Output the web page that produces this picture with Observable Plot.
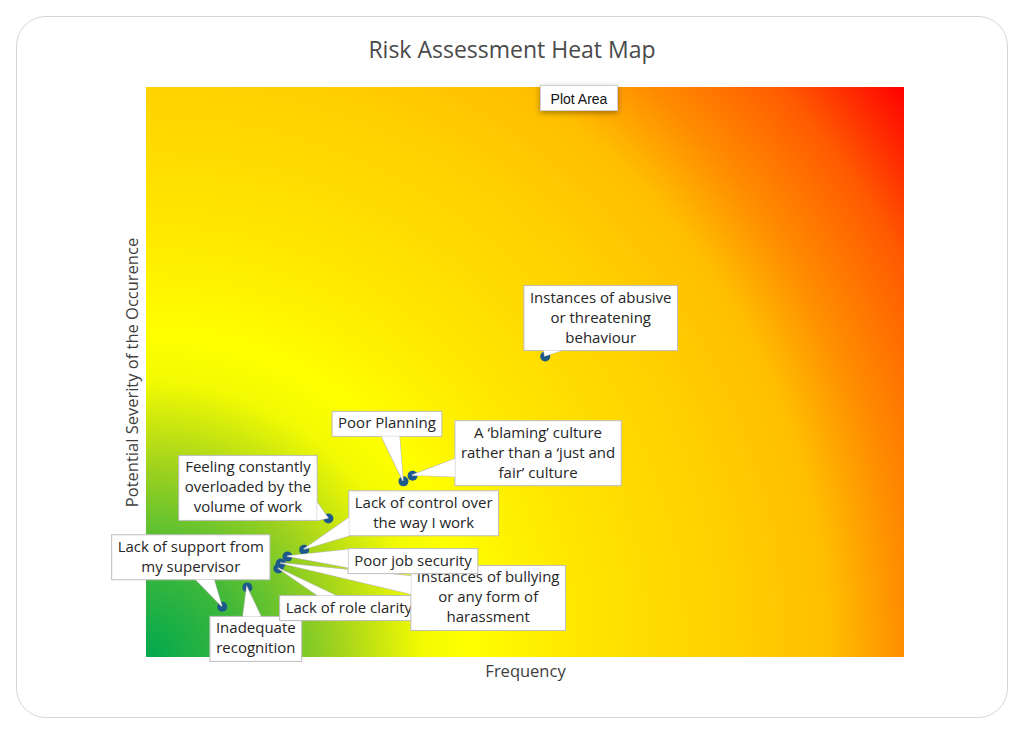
<!DOCTYPE html>
<html>
<head>
<meta charset="utf-8">
<script src="https://cdn.jsdelivr.net/npm/d3@7"></script>
<script src="https://cdn.jsdelivr.net/npm/@observablehq/plot@0.6"></script>
<style>
  html, body { margin: 0; padding: 0; background: #fff; }
  body { width: 1024px; height: 740px; position: relative; overflow: hidden; font-family: "Open Sans", "Noto Sans", sans-serif; }
  #card { position: absolute; left: 16px; top: 16px; width: 992px; height: 702px; border: 1px solid #d6d6d6; border-radius: 30px; box-sizing: border-box; }
  #title { position: absolute; left: 0; width: 1024px; top: 33px; text-align: center; font-size: 23px; color: #4a4a4a; }
  #chart { position: absolute; left: 0; top: 0; }
  #tip { position: absolute; left: 540px; top: 85px; width: 78px; height: 26px; background: #fff; border: 1px solid #cfcfcf; box-shadow: 0 2px 6px rgba(0,0,0,0.35); font-size: 14px; color: #111; text-align: center; line-height: 26px; box-sizing: border-box; font-family: "Liberation Sans", Arial, sans-serif; }
</style>
</head>
<body>
<div id="card"></div>
<div id="chart"></div>
<div id="title">Risk Assessment Heat Map</div>
<div id="tip">Plot Area</div>
<script>
// ---- data ----
const risks = [
  "Lack of support from my supervisor",
  "Inadequate recognition",
  "Lack of role clarity",
  "Instances of bullying or any form of harassment",
  "Poor job security",
  "Lack of control over the way I work",
  "Feeling constantly overloaded by the volume of work",
  "Poor Planning",
  "A ‘blaming’ culture rather than a ‘just and fair’ culture",
  "Instances of abusive or threatening behaviour"
];
const frequency = [1.0, 1.33, 1.74, 1.77, 1.86, 2.08, 2.40, 3.39, 3.51, 5.26];
const severity  = [0.89, 1.23, 1.56, 1.65, 1.77, 1.89, 2.44, 3.09, 3.19, 5.28];
const labelLines = [
  ["Lack of support from", "my supervisor"],
  ["Inadequate", "recognition"],
  ["Lack of role clarity"],
  ["Instances of bullying", "or any form of", "harassment"],
  ["Poor job security"],
  ["Lack of control over", "the way I work"],
  ["Feeling constantly", "overloaded by the", "volume of work"],
  ["Poor Planning"],
  ["A ‘blaming’ culture", "rather than a ‘just and", "fair’ culture"],
  ["Instances of abusive", "or threatening", "behaviour"]
];
const xLabel = "Frequency";
const yLabel = "Potential Severity of the Occurence";

// ---- layout (label box centre offsets from the point, px) ----
const labelOffsets = [
  [-31, -49], [9, 52], [71, 40], [208, 35], [126, 5],
  [120, -36], [-80, -30], [-16, -57], [126, -22], [56, -38]
];

// background gradient stops (fraction of diagonal from the low/low corner)
const gradStops = [
  [0.00, "#00a84f"], [0.10, "#3fb83a"], [0.20, "#9fd21e"], [0.29, "#f2fa02"],
  [0.34, "#ffff00"], [0.46, "#ffe600"], [0.60, "#ffd200"], [0.72, "#ffbf00"],
  [0.80, "#ff8c00"], [0.90, "#ff5a00"], [1.00, "#ff0000"]
];

const data = risks.map((name, i) => ({
  name, x: frequency[i], y: severity[i], lines: labelLines[i], off: labelOffsets[i]
}));

const FS = 15;
const FONT = `${FS}px "Open Sans", "Noto Sans", sans-serif`;
const ctx = document.createElement("canvas").getContext("2d");
ctx.font = FONT;

function gradientMark() {
  return (index, scales) => {
    const svgNS = "http://www.w3.org/2000/svg";
    const g = document.createElementNS(svgNS, "g");
    const x0 = scales.x(0), x1 = scales.x(10), y0 = scales.y(0), y1 = scales.y(10);
    const r = Math.hypot(x1 - x0, y0 - y1);
    const defs = document.createElementNS(svgNS, "defs");
    const grad = document.createElementNS(svgNS, "radialGradient");
    grad.setAttribute("id", "heatgrad");
    grad.setAttribute("gradientUnits", "userSpaceOnUse");
    grad.setAttribute("cx", x0); grad.setAttribute("cy", y0);
    grad.setAttribute("fx", x0); grad.setAttribute("fy", y0);
    grad.setAttribute("r", r);
    for (const [o, c] of gradStops) {
      const s = document.createElementNS(svgNS, "stop");
      s.setAttribute("offset", o); s.setAttribute("stop-color", c);
      grad.appendChild(s);
    }
    defs.appendChild(grad);
    g.appendChild(defs);
    const rect = document.createElementNS(svgNS, "rect");
    rect.setAttribute("x", x0); rect.setAttribute("y", y1);
    rect.setAttribute("width", x1 - x0); rect.setAttribute("height", y0 - y1);
    rect.setAttribute("fill", "url(#heatgrad)");
    g.appendChild(rect);
    return g;
  };
}

function calloutMark() {
  return (index, scales) => {
    const g = d3.create("svg:g");
    for (const d of data) {
      const px = scales.x(d.x), py = scales.y(d.y);
      const cx = px + d.off[0], cy = py + d.off[1];
      const lh = 20;
      const w = Math.max(...d.lines.map(t => ctx.measureText(t).width)) + 12;
      const h = d.lines.length * lh + 5;
      const left = cx - w / 2, top = cy - h / 2;
      const vx = px - cx, vy = py - cy;
      const tx = vx !== 0 ? (w / 2) / Math.abs(vx) : Infinity;
      const ty = vy !== 0 ? (h / 2) / Math.abs(vy) : Infinity;
      let b1, b2;
      const bw = 9;
      if (tx < ty) {
        const ex = cx + Math.sign(vx) * w / 2;
        let ey = cy + vy * tx;
        ey = Math.max(top + bw, Math.min(top + h - bw, ey));
        b1 = [ex, ey - bw]; b2 = [ex, ey + bw];
      } else {
        const ey = cy + Math.sign(vy) * h / 2;
        let ex = cx + vx * ty;
        ex = Math.max(left + bw, Math.min(left + w - bw, ex));
        b1 = [ex - bw, ey]; b2 = [ex + bw, ey];
      }
      const tri = `M${b1[0]},${b1[1]}L${px},${py}L${b2[0]},${b2[1]}Z`;
      g.append("path").attr("d", tri).attr("fill", "#fff").attr("stroke", "#bdbdbd").attr("stroke-width", 1.2);
      g.append("rect").attr("x", left).attr("y", top).attr("width", w).attr("height", h)
        .attr("fill", "#fff").attr("stroke", "#bdbdbd").attr("stroke-width", 1);
      g.append("path").attr("d", tri).attr("fill", "#fff").attr("stroke", "none");
      const t = g.append("text").attr("text-anchor", "middle")
        .attr("font-family", '"Open Sans", "Noto Sans", sans-serif').attr("font-size", FS).attr("fill", "#262626");
      d.lines.forEach((line, k) => {
        t.append("tspan").attr("x", cx).attr("y", top + 17 + k * lh).text(line);
      });
    }
    return g.node();
  };
}

const chart = Plot.plot({
  width: 1024,
  height: 740,
  marginLeft: 146,
  marginRight: 120,
  marginTop: 87,
  marginBottom: 83,
  style: { background: "transparent", fontFamily: '"Open Sans", "Noto Sans", sans-serif' },
  x: { domain: [0, 10], axis: null },
  y: { domain: [0, 10], axis: null },
  marks: [
    gradientMark(),
    Plot.dot(data, { x: "x", y: "y", r: 5, fill: "#1d5a8c", stroke: "none" }),
    calloutMark(),
    Plot.text([xLabel], { frameAnchor: "bottom", dy: 14, fontSize: 16.5, fill: "#404040", lineAnchor: "middle", textAnchor: "middle" }),
    Plot.text([yLabel], { frameAnchor: "left", dx: -14, rotate: -90, fontSize: 16.5, fill: "#404040", lineAnchor: "middle", textAnchor: "middle" })
  ]
});
document.getElementById("chart").appendChild(chart);
</script>
</body>
</html>
